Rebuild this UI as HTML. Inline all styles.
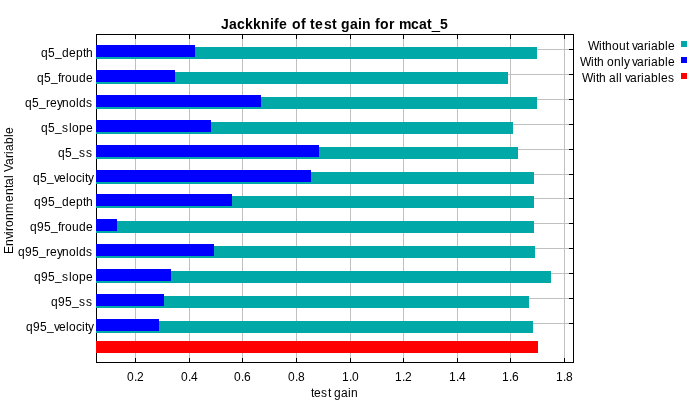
<!DOCTYPE html>
<html><head><meta charset="utf-8"><style>
html,body{margin:0;padding:0;background:#fff;width:700px;height:402px;overflow:hidden}
svg{display:block;position:absolute;left:0;top:0}
.t{will-change:transform}
text{font-family:"Liberation Sans",sans-serif;font-size:12px;fill:#000;font-kerning:none;font-variant-ligatures:none}
text.title{font-weight:bold;font-size:14px}
tspan.us{stroke:#000;stroke-width:0.5}
</style></head><body>
<svg width="700" height="402" viewBox="0 0 700 402">
<rect x="0" y="0" width="700" height="402" fill="#fff"/>
<g shape-rendering="crispEdges">
<rect x="135" y="35" width="1" height="327" fill="#c0c0c0"/>
<rect x="189" y="35" width="1" height="327" fill="#c0c0c0"/>
<rect x="242" y="35" width="1" height="327" fill="#c0c0c0"/>
<rect x="296" y="35" width="1" height="327" fill="#c0c0c0"/>
<rect x="350" y="35" width="1" height="327" fill="#c0c0c0"/>
<rect x="403" y="35" width="1" height="327" fill="#c0c0c0"/>
<rect x="457" y="35" width="1" height="327" fill="#c0c0c0"/>
<rect x="510" y="35" width="1" height="327" fill="#c0c0c0"/>
<rect x="564" y="35" width="1" height="327" fill="#c0c0c0"/>
<rect x="97" y="49" width="476" height="1" fill="#c0c0c0"/>
<rect x="97" y="74" width="476" height="1" fill="#c0c0c0"/>
<rect x="97" y="99" width="476" height="1" fill="#c0c0c0"/>
<rect x="97" y="124" width="476" height="1" fill="#c0c0c0"/>
<rect x="97" y="149" width="476" height="1" fill="#c0c0c0"/>
<rect x="97" y="174" width="476" height="1" fill="#c0c0c0"/>
<rect x="97" y="198" width="476" height="1" fill="#c0c0c0"/>
<rect x="97" y="223" width="476" height="1" fill="#c0c0c0"/>
<rect x="97" y="248" width="476" height="1" fill="#c0c0c0"/>
<rect x="97" y="273" width="476" height="1" fill="#c0c0c0"/>
<rect x="97" y="298" width="476" height="1" fill="#c0c0c0"/>
<rect x="97" y="323" width="476" height="1" fill="#c0c0c0"/>
<rect x="96" y="34" width="478" height="1" fill="#000"/>
<rect x="96" y="362" width="478" height="1" fill="#000"/>
<rect x="96" y="34" width="1" height="329" fill="#000"/>
<rect x="573" y="34" width="1" height="329" fill="#000"/>
<rect x="135" y="35" width="1" height="4" fill="#000"/>
<rect x="135" y="358" width="1" height="4" fill="#000"/>
<rect x="189" y="35" width="1" height="4" fill="#000"/>
<rect x="189" y="358" width="1" height="4" fill="#000"/>
<rect x="242" y="35" width="1" height="4" fill="#000"/>
<rect x="242" y="358" width="1" height="4" fill="#000"/>
<rect x="296" y="35" width="1" height="4" fill="#000"/>
<rect x="296" y="358" width="1" height="4" fill="#000"/>
<rect x="350" y="35" width="1" height="4" fill="#000"/>
<rect x="350" y="358" width="1" height="4" fill="#000"/>
<rect x="403" y="35" width="1" height="4" fill="#000"/>
<rect x="403" y="358" width="1" height="4" fill="#000"/>
<rect x="457" y="35" width="1" height="4" fill="#000"/>
<rect x="457" y="358" width="1" height="4" fill="#000"/>
<rect x="510" y="35" width="1" height="4" fill="#000"/>
<rect x="510" y="358" width="1" height="4" fill="#000"/>
<rect x="564" y="35" width="1" height="4" fill="#000"/>
<rect x="564" y="358" width="1" height="4" fill="#000"/>
<rect x="569" y="49" width="4" height="1" fill="#000"/>
<rect x="569" y="74" width="4" height="1" fill="#000"/>
<rect x="569" y="99" width="4" height="1" fill="#000"/>
<rect x="569" y="124" width="4" height="1" fill="#000"/>
<rect x="569" y="149" width="4" height="1" fill="#000"/>
<rect x="569" y="174" width="4" height="1" fill="#000"/>
<rect x="569" y="198" width="4" height="1" fill="#000"/>
<rect x="569" y="223" width="4" height="1" fill="#000"/>
<rect x="569" y="248" width="4" height="1" fill="#000"/>
<rect x="569" y="273" width="4" height="1" fill="#000"/>
<rect x="569" y="298" width="4" height="1" fill="#000"/>
<rect x="569" y="323" width="4" height="1" fill="#000"/>
<rect x="96" y="47" width="441" height="12" fill="#00a8a8"/>
<rect x="96" y="45" width="99" height="12" fill="#0000ff"/>
<rect x="96" y="72" width="412" height="12" fill="#00a8a8"/>
<rect x="96" y="70" width="79" height="12" fill="#0000ff"/>
<rect x="96" y="97" width="441" height="12" fill="#00a8a8"/>
<rect x="96" y="95" width="165" height="12" fill="#0000ff"/>
<rect x="96" y="122" width="417" height="12" fill="#00a8a8"/>
<rect x="96" y="120" width="115" height="12" fill="#0000ff"/>
<rect x="96" y="147" width="422" height="12" fill="#00a8a8"/>
<rect x="96" y="145" width="223" height="12" fill="#0000ff"/>
<rect x="96" y="172" width="438" height="12" fill="#00a8a8"/>
<rect x="96" y="170" width="215" height="12" fill="#0000ff"/>
<rect x="96" y="196" width="438" height="12" fill="#00a8a8"/>
<rect x="96" y="194" width="136" height="12" fill="#0000ff"/>
<rect x="96" y="221" width="438" height="12" fill="#00a8a8"/>
<rect x="96" y="219" width="21" height="12" fill="#0000ff"/>
<rect x="96" y="246" width="439" height="12" fill="#00a8a8"/>
<rect x="96" y="244" width="118" height="12" fill="#0000ff"/>
<rect x="96" y="271" width="455" height="12" fill="#00a8a8"/>
<rect x="96" y="269" width="75" height="12" fill="#0000ff"/>
<rect x="96" y="296" width="433" height="12" fill="#00a8a8"/>
<rect x="96" y="294" width="68" height="12" fill="#0000ff"/>
<rect x="96" y="321" width="437" height="12" fill="#00a8a8"/>
<rect x="96" y="319" width="63" height="12" fill="#0000ff"/>
<rect x="96" y="341" width="442" height="12" fill="#ff0000"/>
<rect x="681" y="41" width="6" height="6" fill="#00a8a8"/>
<rect x="681" y="57" width="6" height="6" fill="#0000ff"/>
<rect x="681" y="73" width="6" height="6" fill="#ff0000"/>
</g>
</svg>
<svg class="t" width="700" height="402" viewBox="0 0 700 402">

<text class="title" y="29"><tspan x="221 229 237 245 253 261 270 274 279 288 292 301 306 310 315 324 332 337 341 350 358 362 371 375 380 389 395 399 411 419 427">Jackknife of test gain for mcat</tspan><tspan x="432" dy="1" class="us">_</tspan><tspan x="440" dy="-1">5</tspan></text>
<text y="57"><tspan x="41 48">q5</tspan><tspan x="55" dy="-1">_</tspan><tspan x="62 69 76 83 86" dy="1">depth</tspan></text>
<text y="82"><tspan x="37 44">q5</tspan><tspan x="51" dy="-1">_</tspan><tspan x="58 61 65 72 79 86" dy="1">froude</tspan></text>
<text y="107"><tspan x="25 32">q5</tspan><tspan x="39" dy="-1">_</tspan><tspan x="46 50 57 62 69 76 79 86" dy="1">reynolds</tspan></text>
<text y="132"><tspan x="41 48">q5</tspan><tspan x="55" dy="-1">_</tspan><tspan x="62 69 72 79 86" dy="1">slope</tspan></text>
<text y="157"><tspan x="58 65">q5</tspan><tspan x="72" dy="-1">_</tspan><tspan x="79 86" dy="1">ss</tspan></text>
<text y="182"><tspan x="33 40">q5</tspan><tspan x="47" dy="-1">_</tspan><tspan x="54 59 66 69 76 82 85 88" dy="1">velocity</tspan></text>
<text y="206"><tspan x="34 41 48">q95</tspan><tspan x="55" dy="-1">_</tspan><tspan x="62 69 76 83 86" dy="1">depth</tspan></text>
<text y="231"><tspan x="30 37 44">q95</tspan><tspan x="51" dy="-1">_</tspan><tspan x="58 61 65 72 79 86" dy="1">froude</tspan></text>
<text y="256"><tspan x="18 25 32">q95</tspan><tspan x="39" dy="-1">_</tspan><tspan x="46 50 57 62 69 76 79 86" dy="1">reynolds</tspan></text>
<text y="281"><tspan x="34 41 48">q95</tspan><tspan x="55" dy="-1">_</tspan><tspan x="62 69 72 79 86" dy="1">slope</tspan></text>
<text y="306"><tspan x="51 58 65">q95</tspan><tspan x="72" dy="-1">_</tspan><tspan x="79 86" dy="1">ss</tspan></text>
<text y="331"><tspan x="26 33 40">q95</tspan><tspan x="47" dy="-1">_</tspan><tspan x="54 59 66 69 76 82 85 88" dy="1">velocity</tspan></text>
<text y="381"><tspan x="127 134 137">0.2</tspan></text>
<text y="381"><tspan x="181 188 191">0.4</tspan></text>
<text y="381"><tspan x="234 241 244">0.6</tspan></text>
<text y="381"><tspan x="288 295 298">0.8</tspan></text>
<text y="381"><tspan x="342 349 352">1.0</tspan></text>
<text y="381"><tspan x="395 402 405">1.2</tspan></text>
<text y="381"><tspan x="449 456 459">1.4</tspan></text>
<text y="381"><tspan x="502 509 512">1.6</tspan></text>
<text y="381"><tspan x="556 563 566">1.8</tspan></text>
<text y="397"><tspan x="311 314 321 328 331 334 341 348 351">test gain</tspan></text>
<g transform="translate(13,254) rotate(-90)"><text y="0"><tspan x="0 8 15 20 23 27 34 41 52 59 66 69 76 79 82 89 96 100 103 110 117 120">Environmental Variable</tspan></text></g>
<text y="50"><tspan x="588 599 602 605 612 619 626 629 632 637 644 648 651 658 665 668">Without variable</tspan></text>
<text y="66"><tspan x="580 591 594 597 604 607 614 621 624 629 632 637 644 648 651 658 665 668">With only variable</tspan></text>
<text y="82"><tspan x="582 593 596 599 606 609 616 619 622 625 630 637 641 644 651 658 661 668">With all variables</tspan></text>
</svg>
</body></html>
